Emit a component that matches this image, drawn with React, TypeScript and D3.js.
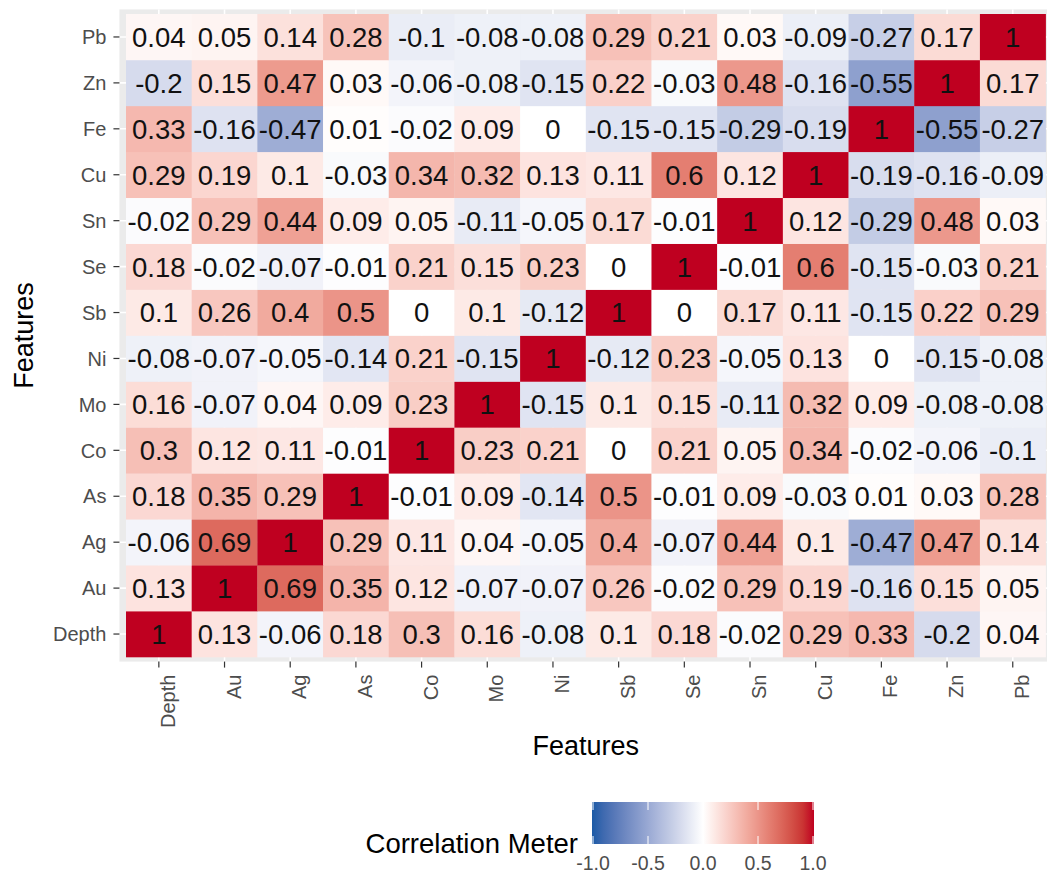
import * as d3 from "d3";
import React from "react";

// feature order along both axes (x left->right, y bottom->top)
const features = ["Depth", "Au", "Ag", "As", "Co", "Mo", "Ni", "Sb", "Se", "Sn", "Cu", "Fe", "Zn", "Pb"];

// correlation rows, one per feature, columns in the same order as `features`
const rDepth = [1, 0.13, -0.06, 0.18, 0.3, 0.16, -0.08, 0.1, 0.18, -0.02, 0.29, 0.33, -0.2, 0.04];
const rAu = [0.13, 1, 0.69, 0.35, 0.12, -0.07, -0.07, 0.26, -0.02, 0.29, 0.19, -0.16, 0.15, 0.05];
const rAg = [-0.06, 0.69, 1, 0.29, 0.11, 0.04, -0.05, 0.4, -0.07, 0.44, 0.1, -0.47, 0.47, 0.14];
const rAs = [0.18, 0.35, 0.29, 1, -0.01, 0.09, -0.14, 0.5, -0.01, 0.09, -0.03, 0.01, 0.03, 0.28];
const rCo = [0.3, 0.12, 0.11, -0.01, 1, 0.23, 0.21, 0, 0.21, 0.05, 0.34, -0.02, -0.06, -0.1];
const rMo = [0.16, -0.07, 0.04, 0.09, 0.23, 1, -0.15, 0.1, 0.15, -0.11, 0.32, 0.09, -0.08, -0.08];
const rNi = [-0.08, -0.07, -0.05, -0.14, 0.21, -0.15, 1, -0.12, 0.23, -0.05, 0.13, 0, -0.15, -0.08];
const rSb = [0.1, 0.26, 0.4, 0.5, 0, 0.1, -0.12, 1, 0, 0.17, 0.11, -0.15, 0.22, 0.29];
const rSe = [0.18, -0.02, -0.07, -0.01, 0.21, 0.15, 0.23, 0, 1, -0.01, 0.6, -0.15, -0.03, 0.21];
const rSn = [-0.02, 0.29, 0.44, 0.09, 0.05, -0.11, -0.05, 0.17, -0.01, 1, 0.12, -0.29, 0.48, 0.03];
const rCu = [0.29, 0.19, 0.1, -0.03, 0.34, 0.32, 0.13, 0.11, 0.6, 0.12, 1, -0.19, -0.16, -0.09];
const rFe = [0.33, -0.16, -0.47, 0.01, -0.02, 0.09, 0, -0.15, -0.15, -0.29, -0.19, 1, -0.55, -0.27];
const rZn = [-0.2, 0.15, 0.47, 0.03, -0.06, -0.08, -0.15, 0.22, -0.03, 0.48, -0.16, -0.55, 1, 0.17];
const rPb = [0.04, 0.05, 0.14, 0.28, -0.1, -0.08, -0.08, 0.29, 0.21, 0.03, -0.09, -0.27, 0.17, 1];

const rows = [rDepth, rAu, rAg, rAs, rCo, rMo, rNi, rSb, rSe, rSn, rCu, rFe, rZn, rPb];

const legendTicks = [-1, -0.5, 0, 0.5, 1];

const FONT = "'Liberation Sans', Arial, Helvetica, sans-serif";

export default function App() {
  const W = 1047;
  const H = 877;

  const x = d3.scaleBand().domain(features).range([126, 1045.6]).padding(0);
  const y = d3.scaleBand().domain(features).range([657, 14]).padding(0);

  const color = d3
    .scaleLinear<string>()
    .domain([-1, 0, 1])
    .range(["#1b5aa6", "#ffffff", "#bf0020"])
    .interpolate(d3.interpolateLab);

  const cells = [];
  rows.forEach((row, i) => {
    row.forEach((v, j) => {
      cells.push({ row: features[i], col: features[j], v });
    });
  });

  const bw = x.bandwidth();
  const bh = y.bandwidth();
  const padX = bw * 0.1;
  const padY = bh * 0.1;
  const x0 = x.range()[0] - padX;
  const x1 = x.range()[1] + padX;
  const y0 = y.range()[1] - padY;
  const y1 = y.range()[0] + padY;

  // legend colorbar
  const barX0 = 592, barX1 = 814, barY0 = 802, barY1 = 844;
  const lx = d3.scaleLinear().domain([-1, 1]).range([593, 813]);
  const stops = d3.range(0, 1.0001, 0.05);

  return (
    <svg width={W} height={H} style={{ position: "absolute", left: 0, top: 0, background: "#fff" }} fontFamily={FONT}>
      <defs>
        <linearGradient id="cbar" x1="0" x2="1" y1="0" y2="0">
          {stops.map((t) => (
            <stop key={t} offset={`${t * 100}%`} stopColor={color(-1 + 2 * t)} />
          ))}
        </linearGradient>
      </defs>

      {/* panel background + grid */}
      <rect x={x0} y={y0} width={x1 - x0} height={y1 - y0} fill="#EBEBEB" />
      {features.map((f) => (
        <line key={"gx" + f} x1={x(f)! + bw / 2} x2={x(f)! + bw / 2} y1={y0} y2={y1} stroke="#fff" strokeWidth={1.6} />
      ))}
      {features.map((f) => (
        <line key={"gy" + f} y1={y(f)! + bh / 2} y2={y(f)! + bh / 2} x1={x0} x2={x1} stroke="#fff" strokeWidth={1.6} />
      ))}

      {/* tiles */}
      {cells.map((c) => (
        <rect key={c.row + c.col} x={x(c.col)} y={y(c.row)} width={bw + 0.3} height={bh + 0.3} fill={color(c.v)} />
      ))}
      {cells.map((c) => (
        <text
          key={"t" + c.row + c.col}
          x={x(c.col)! + bw / 2}
          y={y(c.row)! + bh / 2}
          dy="0.36em"
          textAnchor="middle"
          fontSize={27.5}
          fill="#111"
        >
          {String(c.v)}
        </text>
      ))}

      {/* y axis */}
      {features.map((f) => (
        <g key={"yt" + f}>
          <line x1={x0 - 6} x2={x0} y1={y(f)! + bh / 2} y2={y(f)! + bh / 2} stroke="#333" strokeWidth={1.2} />
          <text x={x0 - 13} y={y(f)! + bh / 2} dy="0.36em" textAnchor="end" fontSize={20} fill="#4D4D4D">
            {f}
          </text>
        </g>
      ))}

      {/* x axis */}
      {features.map((f) => (
        <g key={"xt" + f}>
          <line x1={x(f)! + bw / 2} x2={x(f)! + bw / 2} y1={y1} y2={y1 + 6} stroke="#333" strokeWidth={1.2} />
          <text
            transform={`translate(${x(f)! + bw / 2 + 16},${y1 + 13}) rotate(-90)`}
            textAnchor="end"
            fontSize={20}
            fill="#4D4D4D"
          >
            {f}
          </text>
        </g>
      ))}

      {/* axis titles */}
      <text x={(x.range()[0] + x.range()[1]) / 2} y={755} textAnchor="middle" fontSize={27} fill="#000">
        Features
      </text>
      <text transform={`translate(33,${(y0 + y1) / 2}) rotate(-90)`} textAnchor="middle" fontSize={27} fill="#000">
        Features
      </text>

      {/* legend */}
      <text x={578} y={853} textAnchor="end" fontSize={27.5} fill="#000">
        Correlation Meter
      </text>
      <rect x={barX0} y={barY0} width={barX1 - barX0} height={barY1 - barY0} fill="url(#cbar)" />
      {legendTicks.map((t) => (
        <g key={"lt" + t}>
          <line x1={lx(t)} x2={lx(t)} y1={barY0} y2={barY0 + 8} stroke="#fff" strokeWidth={1} />
          <line x1={lx(t)} x2={lx(t)} y1={barY1 - 8} y2={barY1} stroke="#fff" strokeWidth={1} />
          <text x={lx(t)} y={870} textAnchor="middle" fontSize={19.5} fill="#4D4D4D">
            {d3.format(".1f")(t).replace("−", "-")}
          </text>
        </g>
      ))}
    </svg>
  );
}
